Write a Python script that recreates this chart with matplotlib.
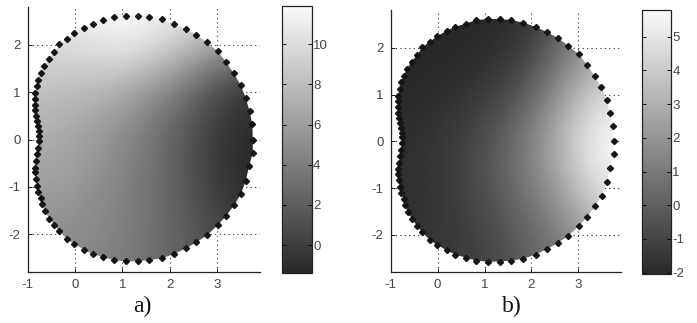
import numpy as np
import matplotlib
matplotlib.use('Agg')
import matplotlib.pyplot as plt
from matplotlib.colors import LinearSegmentedColormap
from matplotlib.patches import Polygon

plt.rcParams['font.family'] = ['Liberation Sans', 'DejaVu Sans']
plt.rcParams['axes.unicode_minus'] = False

# Boundary nodes (same set in both panels)
bnd_x = [3.749, 3.74, 3.68, 3.60, 3.49, 3.348, 3.186, 3.01, 2.785, 2.56,
         2.335, 2.089, 1.828, 1.561, 1.322, 1.069, 0.823, 0.598, 0.373, 0.19,
         -0.014, -0.169, -0.33, -0.436, -0.555, -0.647, -0.724, -0.774, -0.808, -0.837,
         -0.85, -0.845, -0.84, -0.83, -0.80, -0.78, -0.766, -0.75,
         -0.76, -0.774, -0.80, -0.823, -0.844, -0.844, -0.823, -0.795, -0.774, -0.724,
         -0.69, -0.633, -0.54, -0.436, -0.33, -0.169, -0.014, 0.19, 0.373, 0.598,
         0.823, 1.069, 1.322, 1.561, 1.828, 2.089, 2.335, 2.56, 2.785, 3.01,
         3.186, 3.36, 3.495, 3.60, 3.67, 3.749]
bnd_y = [0.0, 0.32, 0.60, 0.877, 1.155, 1.40, 1.635, 1.86, 2.05, 2.21,
         2.337, 2.449, 2.54, 2.596, 2.617, 2.617, 2.596, 2.52, 2.449, 2.365,
         2.246, 2.13, 2.01, 1.846, 1.705, 1.558, 1.40, 1.263, 1.13, 0.98,
         0.857, 0.737, 0.617, 0.49, 0.385, 0.28, 0.175, 0.084,
         -0.036, -0.175, -0.316, -0.457, -0.60, -0.69, -0.83, -0.98, -1.10, -1.23,
         -1.37, -1.52, -1.67, -1.81, -1.94, -2.11, -2.21, -2.33, -2.42, -2.485,
         -2.55, -2.575, -2.57, -2.55, -2.51, -2.42, -2.30, -2.175, -2.02, -1.81,
         -1.614, -1.383, -1.158, -0.877, -0.562, -0.28]

# Shaded field sampled on a coarse grid (estimated from grey levels)
grid_x = [-1.0, -0.3, 0.4, 1.1, 1.8, 2.5, 3.2, 3.9]
grid_y = [-2.8, -2.0, -1.2, -0.4, 0.4, 1.2, 2.0, 2.8]

field_a = [
    [5.0, 4.8, 4.5, 3.8, 2.8, 1.8, 0.8, 0.0],
    [5.4, 5.1, 4.7, 4.1, 2.9, 1.6, 0.5, -0.3],
    [6.0, 5.8, 5.1, 4.1, 2.9, 1.3, -0.6, -1.2],
    [6.8, 6.5, 5.7, 4.4, 2.9, 1.0, -0.9, -1.4],
    [7.5, 7.2, 6.3, 5.1, 3.2, 1.3, -0.6, -1.3],
    [8.6, 8.3, 8.3, 7.4, 5.7, 3.2, 0.8, -0.5],
    [10.0, 10.0, 10.4, 11.0, 9.8, 8.0, 6.0, 5.0],
    [11.0, 11.3, 11.7, 11.9, 11.5, 10.5, 9.0, 8.0],
]

field_b = [
    [-1.6, -1.5, -1.3, -1.0, -0.2, 0.7, 1.8, 2.5],
    [-1.7, -1.6, -1.4, -0.85, 0.1, 1.0, 2.5, 3.5],
    [-1.8, -1.7, -1.2, -0.5, 0.6, 1.9, 4.0, 5.0],
    [-1.8, -1.6, -1.2, -0.3, 1.0, 2.8, 5.1, 5.8],
    [-1.9, -1.8, -1.4, -0.7, 0.6, 2.6, 4.9, 5.7],
    [-2.0, -1.95, -1.8, -1.4, -0.5, 1.4, 3.6, 4.5],
    [-2.0, -2.0, -2.0, -1.9, -1.4, 0.3, 2.1, 3.0],
    [-2.0, -2.0, -2.0, -2.0, -1.8, -0.8, 0.8, 1.5],
]

clim_a = (-1.4, 11.9)
clim_b = (-2.04, 5.79)
cticks_a = [0, 2, 4, 6, 8, 10]
cticks_b = [-2, -1, 0, 1, 2, 3, 4, 5]
xticks = [-1, 0, 1, 2, 3]
yticks = [-2, -1, 0, 1, 2]

grey = LinearSegmentedColormap.from_list('scan_grey', ['#282828', '#fafafa'])
TICK_COL = '#444444'


def draw_panel(fig, rect, crect, field, clim, cticks, label, label_x):
    ax = fig.add_axes(rect)
    ax.set_axisbelow(True)
    ax.grid(True, linestyle=(0, (1, 3)), color='#333333', linewidth=0.8)

    # grid nodes sit on pixel centres, so pad the extent by half a cell
    dx = grid_x[1] - grid_x[0]
    dy = grid_y[1] - grid_y[0]
    extent = [grid_x[0] - dx / 2, grid_x[-1] + dx / 2,
              grid_y[0] - dy / 2, grid_y[-1] + dy / 2]
    img = ax.imshow(np.array(field), origin='lower', extent=extent, cmap=grey,
                    vmin=clim[0], vmax=clim[1], interpolation='bicubic',
                    aspect='auto', zorder=1)
    outline = Polygon(np.column_stack([bnd_x, bnd_y]), closed=True,
                      transform=ax.transData)
    img.set_clip_path(outline)

    ax.plot(bnd_x, bnd_y, linestyle='none', marker='D', markersize=3.1,
            color='#151515', zorder=3)

    ax.set_xlim(-1, 3.9)
    ax.set_ylim(-2.8, 2.8)
    for side in ['top', 'right']:
        ax.spines[side].set_visible(False)
    for side in ['left', 'bottom']:
        ax.spines[side].set_color('#222222')
        ax.spines[side].set_linewidth(0.9)
    ax.set_xticks(xticks)
    ax.set_yticks(yticks)
    ax.tick_params(direction='in', length=3, width=0.6, labelsize=9.5,
                   labelcolor=TICK_COL, pad=5)

    cax = fig.add_axes(crect)
    cb = fig.colorbar(img, cax=cax)
    cb.set_ticks(cticks)
    cb.outline.set_linewidth(0.9)
    cb.outline.set_edgecolor('#222222')
    cax.tick_params(direction='in', length=3, width=0.6, left=True, right=True,
                    labelleft=False, labelright=True, labelsize=9.5,
                    labelcolor=TICK_COL, pad=1)

    fig.text(label_x, 0.052, label, ha='center', va='center', fontsize=17,
             family=['Liberation Serif', 'DejaVu Serif'], color='#111111')
    return ax


fig = plt.figure(figsize=(6.97, 3.23), dpi=100)
draw_panel(fig, [0.0396, 0.1579, 0.3334, 0.8204], [0.4042, 0.1539, 0.0430, 0.8276],
           field_a, clim_a, cticks_a, 'a)', 0.2037)
draw_panel(fig, [0.5605, 0.1570, 0.3300, 0.8105], [0.9207, 0.1517, 0.0420, 0.8173],
           field_b, clim_b, cticks_b, 'b)', 0.7346)

fig.savefig('out.png', dpi=100, facecolor='white')
